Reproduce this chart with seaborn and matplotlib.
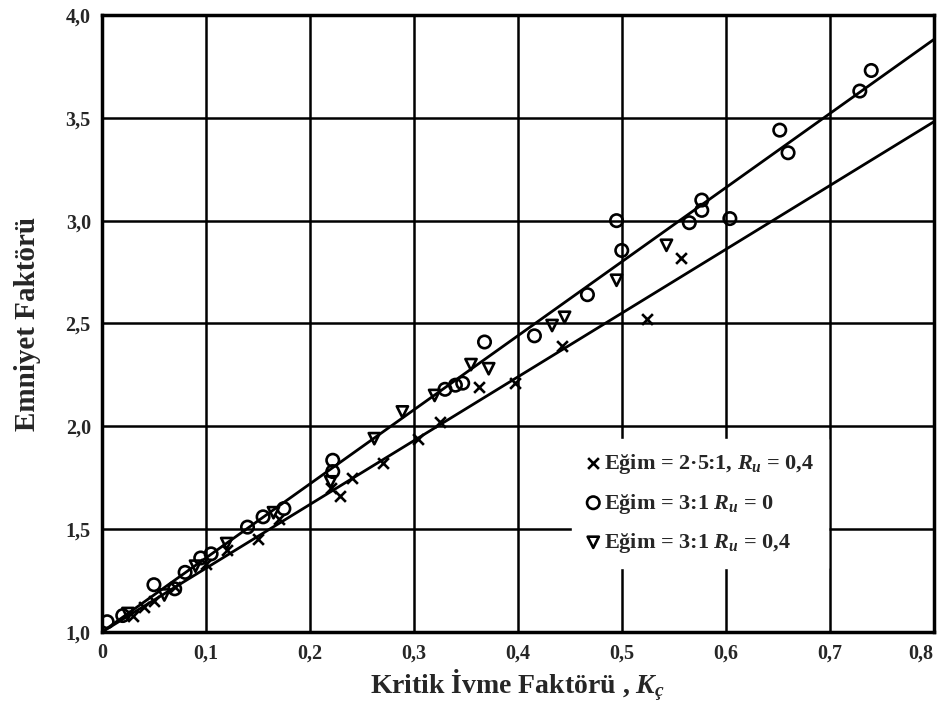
import matplotlib
matplotlib.use("Agg")
import matplotlib.pyplot as plt
import seaborn as sns
import numpy as np
from matplotlib.ticker import FuncFormatter

# ---- data ----
x_egim25_x = [0.03, 0.04, 0.05, 0.07, 0.10, 0.12, 0.15, 0.17, 0.22, 0.229, 0.241, 0.27, 0.304, 0.325,
              0.363, 0.397, 0.443, 0.524, 0.557]
x_egim25_y = [1.08, 1.12, 1.15, 1.22, 1.33, 1.40, 1.45, 1.55, 1.70, 1.66, 1.75, 1.82, 1.94, 2.02,
              2.19, 2.21, 2.39, 2.52, 2.82]

o_egim3_x = [0.005, 0.02, 0.05, 0.07, 0.08, 0.095, 0.105, 0.14, 0.155, 0.175, 0.222, 0.222,
             0.33, 0.34, 0.347, 0.368, 0.416, 0.467, 0.495, 0.50, 0.565, 0.577, 0.577, 0.604,
             0.652, 0.66, 0.729, 0.74]
o_egim3_y = [1.05, 1.08, 1.23, 1.21, 1.29, 1.36, 1.38, 1.51, 1.56, 1.60, 1.835, 1.78,
             2.18, 2.20, 2.21, 2.41, 2.44, 2.64, 3.00, 2.855, 2.99, 3.05, 3.10, 3.01,
             3.44, 3.33, 3.63, 3.73]

v_egim3_x = [0.025, 0.06, 0.09, 0.12, 0.165, 0.22, 0.262, 0.289, 0.32, 0.355, 0.372, 0.433, 0.445,
             0.495, 0.543]
v_egim3_y = [1.09, 1.18, 1.32, 1.43, 1.58, 1.73, 1.94, 2.07, 2.15, 2.30, 2.28, 2.49, 2.53,
             2.71, 2.88]

upper_line_x = [0.0, 0.8]
upper_line_y = [1.00, 3.88]
lower_line_x = [0.0, 0.8]
lower_line_y = [1.00, 3.48]

x_ticks = [0.0, 0.1, 0.2, 0.3, 0.4, 0.5, 0.6, 0.7, 0.8]
y_ticks = [1.0, 1.5, 2.0, 2.5, 3.0, 3.5, 4.0]

legend_labels = ["Eğim = 2·5:1, $R_u$ = 0,4",
                 "Eğim = 3:1 $R_u$ = 0",
                 "Eğim = 3:1 $R_u$ = 0,4"]
x_label = "Kritik İvme Faktörü , $K_ç$"
y_label = "Emniyet Faktörü"

# ---- style ----
sns.set_style("white")
plt.rcParams["font.family"] = ["Liberation Serif", "DejaVu Serif"]
plt.rcParams["font.weight"] = "bold"
plt.rcParams["mathtext.fontset"] = "custom"
plt.rcParams["mathtext.it"] = "Liberation Serif:italic:bold"
plt.rcParams["mathtext.rm"] = "Liberation Serif:bold"
plt.rcParams["mathtext.bf"] = "Liberation Serif:bold"

fig = plt.figure(figsize=(9.44, 7.02), dpi=100)
ax = fig.add_axes([0.108, 0.0997, 0.881, 0.879])

# lines
sns.lineplot(x=upper_line_x, y=upper_line_y, ax=ax, color="black", lw=2.0, zorder=3)
sns.lineplot(x=lower_line_x, y=lower_line_y, ax=ax, color="black", lw=2.0, zorder=3)

# points
sns.scatterplot(x=x_egim25_x, y=x_egim25_y, ax=ax, marker="x", color="black", s=60,
                linewidth=1.9, label=legend_labels[0], zorder=4)
sns.scatterplot(x=o_egim3_x, y=o_egim3_y, ax=ax, marker="o", facecolor="none",
                edgecolor="black", s=80, linewidth=1.9, label=legend_labels[1], zorder=4)
sns.scatterplot(x=v_egim3_x, y=v_egim3_y, ax=ax, marker="v", facecolor="none",
                edgecolor="black", s=65, linewidth=1.9, label=legend_labels[2], zorder=4)

ax.set_xlim(0, 0.8)
ax.set_ylim(1.0, 4.0)
ax.set_xticks(x_ticks)
ax.set_yticks(y_ticks)


def fmt_x(v, pos):
    if abs(v) < 1e-9:
        return "0"
    return f"{v:.1f}".replace(".", ",")


def fmt_y(v, pos):
    return f"{v:.1f}".replace(".", ",")


ax.xaxis.set_major_formatter(FuncFormatter(fmt_x))
ax.yaxis.set_major_formatter(FuncFormatter(fmt_y))
ax.grid(True, color="black", lw=1.8)
ax.set_axisbelow(True)
for s in ax.spines.values():
    s.set_color("black")
    s.set_linewidth(2.5)
ax.tick_params(axis="both", labelsize=14.5, length=4, width=1.5, color="black", pad=4)
fig.canvas.draw()
xlabs = ax.get_xticklabels()
for lab in xlabs + ax.get_yticklabels():
    lab.set_fontweight("bold")
xlabs[-1].set_horizontalalignment("right")

ax.set_xlabel(x_label, fontsize=20, fontweight="bold", labelpad=3)
ax.set_ylabel(y_label, fontsize=21, fontweight="bold", labelpad=18)

leg = ax.legend(loc="lower left", bbox_to_anchor=(0.552, 0.085), frameon=True,
                facecolor="white", edgecolor="white", framealpha=1.0, fontsize=16,
                handletextpad=0.15, handlelength=0.7, borderpad=0.6, labelspacing=0.7,
                fancybox=False)
leg.set_zorder(5)
for t in leg.get_texts():
    t.set_fontweight("bold")

fig.savefig("out.png", dpi=100)
